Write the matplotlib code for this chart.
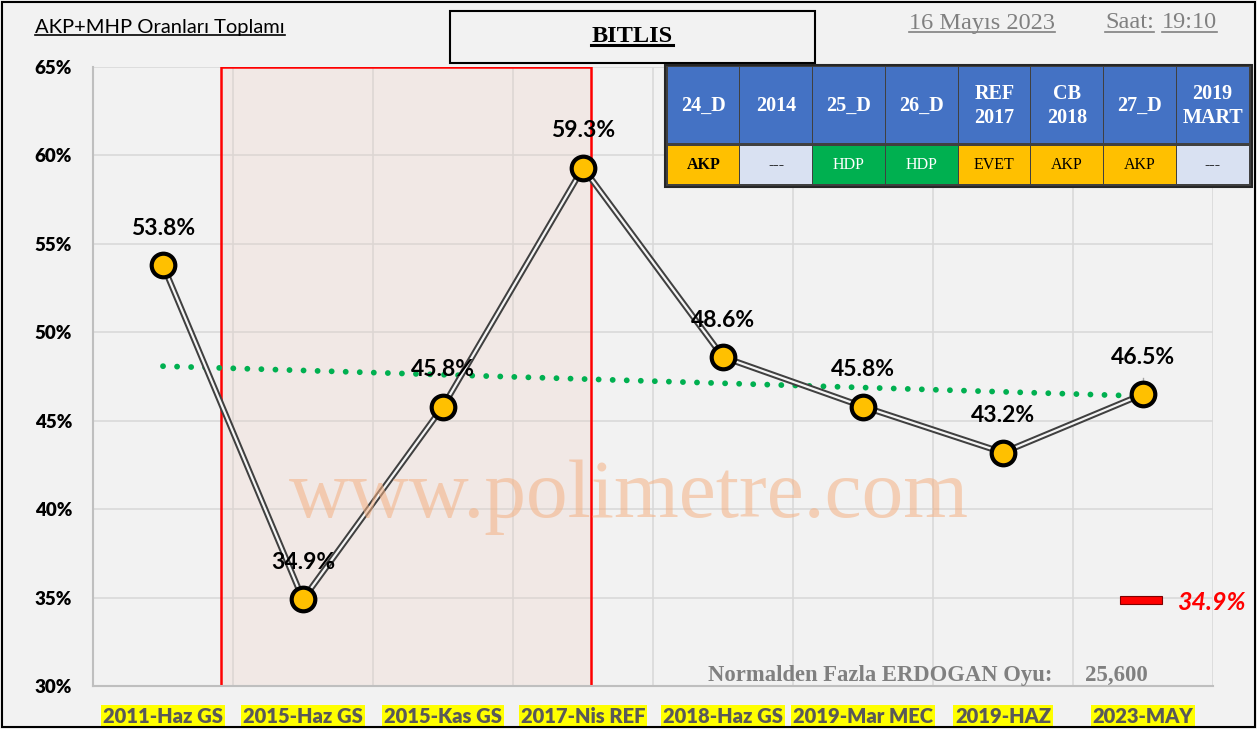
import matplotlib.pyplot as plt
from matplotlib.patches import Rectangle
from matplotlib.lines import Line2D
import numpy as np

# chart values
categories = ["2011-Haz GS", "2015-Haz GS", "2015-Kas GS", "2017-Nis REF",
              "2018-Haz GS", "2019-Mar MEC", "2019-HAZ", "2023-MAY"]
akp_mhp = [53.8, 34.9, 45.8, 59.3, 48.6, 45.8, 43.2, 46.5]
y_ticks = [30, 35, 40, 45, 50, 55, 60, 65]

table_head = ["24_D", "2014", "25_D", "26_D", "REF\n2017", "CB\n2018", "27_D", "2019\nMART"]
table_row = ["AKP", "---", "HDP", "HDP", "EVET", "AKP", "AKP", "---"]
row_colors = ["#ffc000", "#d9e1f2", "#00b050", "#00b050", "#ffc000", "#ffc000", "#ffc000", "#d9e1f2"]
row_text_colors = ["black", "black", "white", "white", "black", "black", "black", "black"]

W, H = 1257, 729
BG = "#f2f2f2"
SANS = ["Lato", "DejaVu Sans"]
SERIF = ["Liberation Serif", "DejaVu Serif"]


def px(x, y):
    """pixel (from top-left) -> figure fraction"""
    return x / W, 1 - y / H


fig = plt.figure(figsize=(W / 100, H / 100), dpi=100, facecolor=BG)

# plot area
ax = fig.add_axes([93 / W, (H - 686) / H, 1120 / W, 619 / H])
ax.set_facecolor(BG)
ax.set_xlim(-0.5, len(categories) - 0.5)
ax.set_ylim(30, 65)
for s in ["top", "right"]:
    ax.spines[s].set_visible(False)
for s in ["left", "bottom"]:
    ax.spines[s].set_color("#bfbfbf")
    ax.spines[s].set_linewidth(1.5)

for yv in y_ticks:
    ax.axhline(yv, color="#d9d9d9", lw=1.2, zorder=0)
for xv in np.arange(0.5, len(categories), 1):
    ax.axvline(xv, color="#d9d9d9", lw=1.2, zorder=0)

ax.set_yticks(y_ticks)
ax.set_yticklabels([f"{v}%" for v in y_ticks], fontfamily=SANS,
                   fontweight="heavy", fontsize=13.5)
ax.set_xticks(range(len(categories)))
ax.set_xticklabels(categories, fontfamily=SANS, fontweight="heavy",
                   fontsize=14.5, color="#595959")
ax.tick_params(axis="y", length=0, pad=15)
ax.tick_params(axis="x", length=0, pad=15)
for lbl in ax.get_xticklabels():
    lbl.set_bbox(dict(boxstyle="square,pad=0.1", fc="#ffff00", ec="none"))

# highlighted region
region = (px(221, 689), (591 - 221) / W, (689 - 67) / H)
ax.add_patch(Rectangle(*region, transform=fig.transFigure, fc="#f1e8e5",
                       ec="none", zorder=1))
for yv in y_ticks:
    ax.axhline(yv, color="#ddd6d3", lw=1.2, zorder=1.5, xmin=(221 - 93) / 1120,
               xmax=(591 - 93) / 1120)
for xv in [0.5, 1.5, 2.5]:
    ax.axvline(xv, color="#ddd6d3", lw=1.2, zorder=1.5)
ax.add_patch(Rectangle(*region, transform=fig.transFigure, fc="none",
                       ec="#ff0000", lw=1.8, zorder=1.6))

x = np.arange(len(akp_mhp))
# watermark
fig.text(0.5, 1 - 497 / H, "www.polimetre.com", fontfamily=SERIF, fontsize=60,
         color="#f4b183", alpha=0.55, ha="center", va="center", zorder=2)

# trend line
coef = np.polyfit(x, akp_mhp, 1)
ax.plot(x, np.polyval(coef, x), color="#00b050", lw=4.2,
        linestyle=(0, (0.01, 2.4)), dash_capstyle="round", zorder=3)

# double line series
ax.plot(x, akp_mhp, color="#404040", lw=4.5, zorder=4, solid_capstyle="butt")
ax.plot(x, akp_mhp, color="#f5f5f5", lw=1.6, zorder=4.1)
ax.plot(x, akp_mhp, linestyle="none", marker="o", ms=17, mfc="#ffc000",
        mec="black", mew=3, zorder=5)

for xi, yi in zip(x, akp_mhp):
    ax.annotate(f"{yi:.1f}%", (xi, yi), xytext=(0, 37), textcoords="offset pixels",
                ha="center", va="center", fontfamily=SANS, fontweight="bold",
                fontsize=16.5, color="black", zorder=6)
ax.plot([x[-1], x[-1]], [akp_mhp[-1], akp_mhp[-1] + 0.9], color="#a6a6a6",
        lw=1, zorder=4.5)

# title texts
fig.text(*px(35, 28), "AKP+MHP Oranları Toplamı", fontfamily=SANS, fontsize=14.5,
         va="center", ha="left", color="black")
fig.add_artist(Rectangle(px(450, 63), (815 - 450) / W, (63 - 11) / H,
                         transform=fig.transFigure, fc="none", ec="black", lw=1.5))
fig.text(*px(632, 36), "BITLIS", fontfamily=SERIF, fontsize=17.5, fontweight="bold",
         va="center", ha="center")
fig.text(*px(909, 23), "16 Mayıs 2023", fontfamily=SERIF, fontsize=17.5,
         color="#808080", va="center", ha="left")
fig.text(*px(1105, 23), "Saat:", fontfamily=SERIF, fontsize=17.5,
         color="#808080", va="center", ha="left")
fig.text(*px(1162, 23), "19:10", fontfamily=SERIF, fontsize=17.5,
         color="#808080", va="center", ha="left")

# info table
tx0, tx1, ty0, ty1 = 667, 1249, 67, 184
cw = (tx1 - tx0) / len(table_head)
fig.add_artist(Rectangle(px(665, 187), (1252 - 665) / W, (187 - 65) / H,
                         transform=fig.transFigure, fc="#404040", ec="#262626", lw=1.5))
for i, (hd, pt, c, tc) in enumerate(zip(table_head, table_row, row_colors, row_text_colors)):
    cx = tx0 + i * cw
    fig.add_artist(Rectangle(px(cx + 0.5, 143), (cw - 1) / W, (143 - ty0) / H,
                             transform=fig.transFigure, fc="#4472c4", ec="none"))
    fig.add_artist(Rectangle(px(cx + 0.5, ty1), (cw - 1) / W, (ty1 - 146) / H,
                             transform=fig.transFigure, fc=c, ec="none"))
    fig.text(*px(cx + cw / 2, 106), hd, fontfamily=SERIF, fontweight="bold",
             fontsize=14.5, color="white", ha="center", va="center", linespacing=1.25)
    fig.text(*px(cx + cw / 2, 165), pt, fontfamily=SERIF, fontsize=11.5,
             fontweight="bold" if i == 0 else "normal",
             color=tc, ha="center", va="center")

# bottom-right notes
fig.text(*px(708, 675), "Normalden Fazla ERDOGAN Oyu:", fontfamily=SERIF,
         fontsize=16.3, fontweight="bold", color="#808080", va="center", ha="left")
fig.text(*px(1085, 675), "25,600", fontfamily=SERIF, fontsize=16.5,
         fontweight="bold", color="#808080", va="center", ha="left")
fig.add_artist(Rectangle(px(1120, 604), 42 / W, 8 / H, transform=fig.transFigure,
                         fc="#ff0000", ec="#7f0000", lw=0.8))
fig.text(*px(1177, 602), f"{min(akp_mhp):.1f}%", fontfamily=SANS, fontsize=18,
         fontweight="bold", style="italic", color="#ff0000", va="center", ha="left")

# outer frame
fig.add_artist(Rectangle((2 / W, 2 / H), (W - 4) / W, (H - 4) / H,
                         transform=fig.transFigure, fc="none", ec="black", lw=1.5))

# underlines for heading texts
fig.canvas.draw()
renderer = fig.canvas.get_renderer()
for t in fig.texts:
    if t.get_text() in ("AKP+MHP Oranları Toplamı", "BITLIS", "16 Mayıs 2023",
                        "Saat:", "19:10"):
        bb = t.get_window_extent(renderer)
        lw = 2.2 if t.get_text() == "BITLIS" else 1.2
        fig.add_artist(Line2D([bb.x0 / W, bb.x1 / W],
                              [(bb.y0 + 2) / H, (bb.y0 + 2) / H],
                              transform=fig.transFigure,
                              color=t.get_color(), lw=lw))

fig.savefig("out.png", dpi=100, facecolor=BG)
